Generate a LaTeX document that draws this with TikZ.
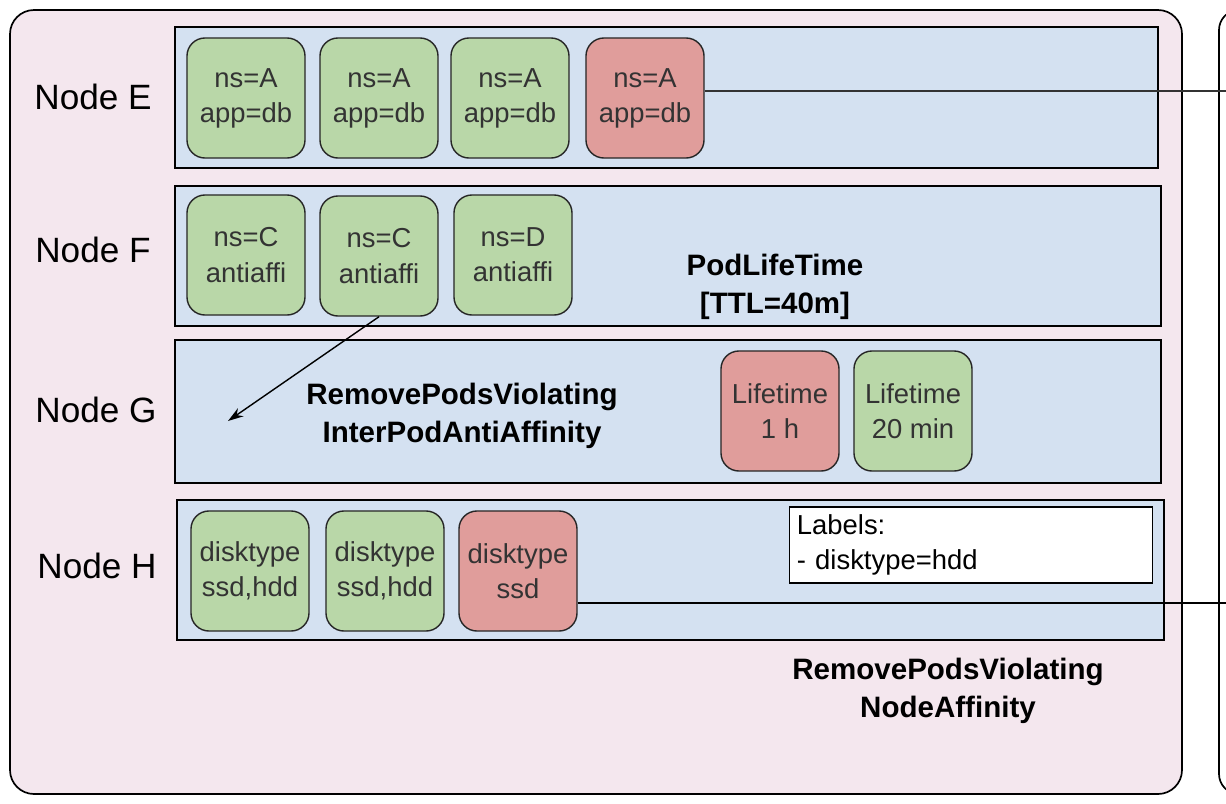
\documentclass[tikz,border=0pt]{standalone}
\usepackage{fontspec}
\setmainfont{Liberation Sans}
\usetikzlibrary{arrows.meta}
\definecolor{outerpink}{RGB}{244,231,238}
\definecolor{bandblue}{RGB}{212,225,241}
\definecolor{podgreen}{RGB}{185,215,168}
\definecolor{podred}{RGB}{224,157,155}
\tikzset{
  band/.style={draw=black, line width=1.4pt, fill=bandblue},
  pod/.style={draw=black!85, line width=1pt, rounded corners=0.45cm,
    minimum width=2.95cm, minimum height=3cm, inner sep=0pt, align=center,
    text=black!80, font=\fontsize{19.5}{25}\selectfont},
  good/.style={pod, fill=podgreen},
  bad/.style={pod, fill=podred},
  nodename/.style={font=\fontsize{25}{29}\selectfont},
  rulename/.style={font=\fontsize{21}{27}\selectfont\bfseries, align=center},
}
\begin{document}
\begin{tikzpicture}[x=0.025cm, y=-0.025cm]
  \useasboundingbox (0,0) rectangle (1226,804);
  % outer cluster and the next one on the right
  \draw[line width=1.2pt, fill=outerpink, rounded corners=0.6cm] (10,10) rectangle (1182,794);
  \draw[line width=1.2pt, fill=white, rounded corners=0.5cm] (1219,10) rectangle (1320,794);
  \coordinate (rightend) at (1240,0);

  % node bands
  \draw[band] (175,27) rectangle (1158,168);
  \draw[band] (175,186) rectangle (1161,326);
  \draw[band] (175,340) rectangle (1161,483);
  \draw[band] (177,500) rectangle (1164,640);

  \node[nodename] (nE) at (93,97) {Node E};
  \node[nodename] (nF) at (93,250) {Node F};
  \node[nodename] (nG) at (96,410) {Node G};
  \node[nodename] (nH) at (97,566) {Node H};

  % Node E
  \node[good] (e1) at (246,98) {ns=A\\app=db};
  \node[good] (e2) at (379,98) {ns=A\\app=db};
  \node[good] (e3) at (510,98) {ns=A\\app=db};
  \node[bad] (e4) at (645,98) {ns=A\\app=db};

  % Node F
  \node[good] (f1) at (246,255) {ns=C\\antiaffi};
  \node[good] (f2) at (379,256) {ns=C\\antiaffi};
  \node[good] (f3) at (513,255) {ns=D\\antiaffi};
  \node[rulename] (ttl) at (775,287) {PodLifeTime\\{}[TTL=40m]};

  % Node G
  \node[rulename] (anti) at (462,416) {RemovePodsViolating\\InterPodAntiAffinity};
  \node[bad] (g1) at (780,411) {Lifetime\\1 h};
  \node[good] (g2) at (913,411) {Lifetime\\20 min};
  \coordinate (gdrop) at (228,421);

  % Node H
  \node[good] (h1) at (250,571) {disktype\\ssd,hdd};
  \node[good] (h2) at (385,571) {disktype\\ssd,hdd};
  \node[bad] (h3) at (518,571) {disktype\\ssd};
  \node[draw, line width=1.2pt, fill=white, minimum width=9.08cm, minimum height=1.9cm,
    text width=8.7cm, align=left, font=\fontsize{19.5}{25}\selectfont] (lbl) at (971,545)
    {Labels:\\- disktype=hdd};
  \node[rulename] (naff) at (948,691) {RemovePodsViolating\\NodeAffinity};

  % evictions
  \draw[line width=1pt, -{Stealth[length=11pt, width=7pt]}] (f2.south) -- (gdrop);
  \draw[line width=1pt, black!80] ([yshift=0.18cm]e4.east) -- ([yshift=0.18cm]e4.east -| rightend);
  \draw[line width=1pt] ([yshift=-0.8cm]h3.east) -- ([yshift=-0.8cm]h3.east -| rightend);
\end{tikzpicture}
\end{document}
